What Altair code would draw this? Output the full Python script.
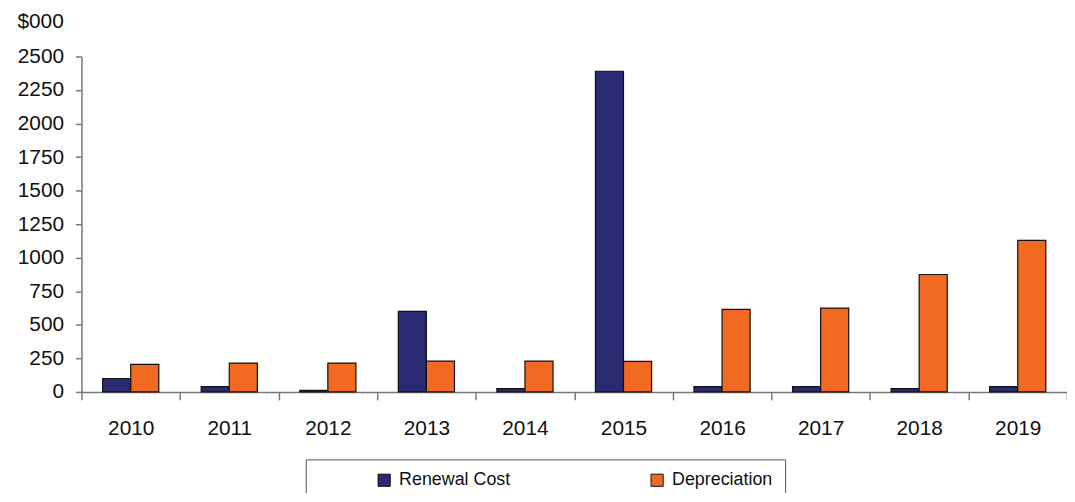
import altair as alt
import pandas as pd

years = ["2010", "2011", "2012", "2013", "2014", "2015", "2016", "2017", "2018", "2019"]
renewal_cost = [100, 40, 12, 600, 25, 2390, 40, 40, 25, 40]
depreciation = [205, 215, 215, 230, 230, 228, 615, 625, 875, 1130]
series = ["Renewal Cost", "Depreciation"]
colors = ["#2A2A72", "#F26A21"]

rows = []
for i, y in enumerate(years):
    rows.append({"year": y, "series": series[0], "value": renewal_cost[i]})
    rows.append({"year": y, "series": series[1], "value": depreciation[i]})
df = pd.DataFrame(rows)

FONT = "Liberation Sans"

chart = alt.Chart(df).mark_bar(stroke="#111111", strokeWidth=1.2).encode(
    x=alt.X("year:N", sort=years,
            scale=alt.Scale(paddingInner=0, paddingOuter=0),
            axis=alt.Axis(title=None, labelAngle=0, tickBand="extent",
                          tickSize=8, labelPadding=18, labelFontSize=21,
                          labelFont=FONT, labelColor="#111111",
                          domainColor="#777777", tickColor="#777777",
                          domainWidth=1.5, tickWidth=1.5)),
    xOffset=alt.XOffset("series:N", sort=series,
                        scale=alt.Scale(paddingInner=0, paddingOuter=0.755)),
    y=alt.Y("value:Q",
            scale=alt.Scale(domain=[0, 2500], nice=False),
            axis=alt.Axis(values=list(range(0, 2501, 250)), grid=False, format="d",
                          title="$000", titleAngle=0, titleAlign="left",
                          titleBaseline="middle", titleX=-65, titleY=-35,
                          titleFont=FONT, titleFontSize=21, titleFontWeight="normal",
                          titleColor="#111111",
                          tickSize=6, labelPadding=12, labelFontSize=21,
                          labelFont=FONT, labelColor="#111111",
                          domainColor="#777777", tickColor="#777777",
                          domainWidth=1.5, tickWidth=1.5)),
    color=alt.Color("series:N", sort=series,
                    scale=alt.Scale(domain=series, range=colors),
                    legend=alt.Legend(title=None, orient="none", legendX=226, legendY=406,
                                      direction="horizontal", columns=2,
                                      columnPadding=80, symbolOffset=58,
                                      symbolType="square", symbolSize=150,
                                      symbolStrokeColor="#111111", symbolStrokeWidth=1,
                                      labelFont=FONT, labelFontSize=18,
                                      labelColor="#111111", labelOffset=6,
                                      strokeColor="#555555", padding=12,
                                      fillColor="white")),
).properties(
    width=993, height=338,
    autosize=alt.AutoSizeParams(type="none"),
    padding={"left": 74, "top": 47, "right": 0, "bottom": 100},
).configure_view(stroke=None)

chart.save("out.html", embed_options={"renderer": "svg", "actions": False})
